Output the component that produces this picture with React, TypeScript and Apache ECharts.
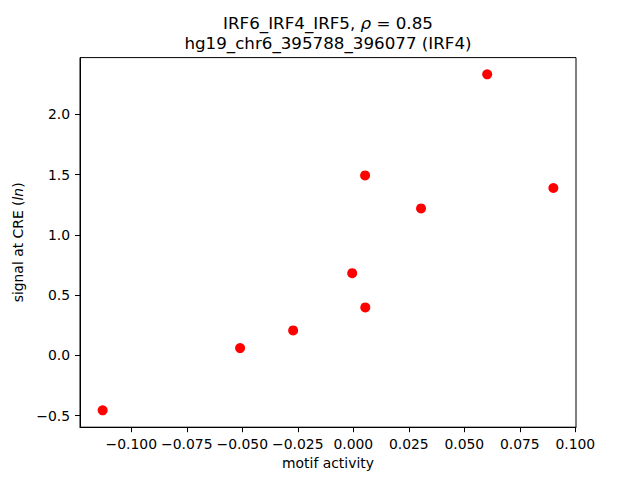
import React, { useEffect, useRef } from "react";
import * as echarts from "echarts";

const motifActivity = [-0.1129, -0.051, -0.0271, -0.0005, 0.0054, 0.0053, 0.0305, 0.0603, 0.0901];
const signalAtCRE = [-0.455, 0.061, 0.208, 0.683, 0.399, 1.494, 1.22, 2.332, 1.389];
const xTicks = [-0.1, -0.075, -0.05, -0.025, 0, 0.025, 0.05, 0.075, 0.1];
const yTicks = [-0.5, 0, 0.5, 1, 1.5, 2];
const xRange = [-0.1231, 0.1003];
const yRange = [-0.595, 2.471];
const titleLine1 = ["IRF6_IRF4_IRF5, ", "ρ", " = 0.85"];
const titleLine2 = "hg19_chr6_395788_396077 (IRF4)";
const xName = "motif activity";

const FONT = "DejaVu Sans";
const fmt = (v: number, d: number) => {
  const s = Math.abs(v).toFixed(d);
  return v < -1e-12 ? "\u2212" + s : s;
};

export default function App() {
  const ref = useRef<HTMLDivElement>(null);
  useEffect(() => {
    if (!ref.current) return;
    const chart = echarts.init(ref.current, null, { renderer: "svg" });
    const points = motifActivity.map((x, i) => [x, signalAtCRE[i]]);
    chart.setOption({
      animation: false,
      backgroundColor: "#ffffff",
      textStyle: { fontFamily: FONT },
      graphic: [
        {
          type: "text",
          x: 328,
          y: 23,
          style: {
            text: `{a|${titleLine1[0]}}{i|${titleLine1[1]}}{a|${titleLine1[2]}}`,
            textAlign: "center",
            textVerticalAlign: "middle",
            fill: "#000",
            rich: {
              a: { fontFamily: FONT, fontSize: 16.7, fill: "#000" },
              i: { fontFamily: FONT, fontSize: 16.7, fontStyle: "italic", fill: "#000" },
            },
          },
        },
        {
          type: "text",
          x: 328,
          y: 43,
          style: {
            text: titleLine2,
            textAlign: "center",
            textVerticalAlign: "middle",
            fontFamily: FONT,
            fontSize: 16.7,
            fill: "#000",
          },
        },
      ],
      grid: {
        left: 80,
        right: 64,
        top: 57.6,
        bottom: 52.8,
        show: true,
        borderColor: "#000",
        borderWidth: 1,
        backgroundColor: "#fff",
      },
      xAxis: {
        type: "value",
        min: xRange[0],
        max: xRange[1],
        name: xName,
        nameLocation: "middle",
        nameGap: 28,
        nameTextStyle: { fontFamily: FONT, fontSize: 13.9, color: "#000" },
        axisLine: { show: true, onZero: false, lineStyle: { color: "#000", width: 1 } },
        axisTick: { show: true, length: 5, customValues: xTicks, lineStyle: { color: "#000", width: 1 } },
        axisLabel: {
          customValues: xTicks,
          margin: 10,
          fontFamily: FONT,
          fontSize: 13.9,
          color: "#000",
          formatter: (v: number) => fmt(v, 3),
        },
        splitLine: { show: false },
      },
      yAxis: {
        type: "value",
        min: yRange[0],
        max: yRange[1],
        name: "{a|signal at CRE (}{i|ln}{a|)}",
        nameLocation: "middle",
        nameRotate: 90,
        nameGap: 52,
        nameTextStyle: {
          color: "#000",
          rich: {
            a: { fontFamily: FONT, fontSize: 13.9, color: "#000" },
            i: { fontFamily: FONT, fontSize: 13.9, fontStyle: "italic", color: "#000" },
          },
        },
        axisLine: { show: true, onZero: false, lineStyle: { color: "#000", width: 1 } },
        axisTick: { show: true, length: 5, customValues: yTicks, lineStyle: { color: "#000", width: 1 } },
        axisLabel: {
          customValues: yTicks,
          margin: 10,
          fontFamily: FONT,
          fontSize: 13.9,
          color: "#000",
          formatter: (v: number) => fmt(v, 1),
        },
        splitLine: { show: false },
      },
      series: [
        {
          type: "scatter",
          data: points,
          symbol: "circle",
          symbolSize: 10,
          itemStyle: { color: "#ff0000", opacity: 1 },
        },
      ],
    });
    return () => chart.dispose();
  }, []);
  return <div ref={ref} style={{ width: 640, height: 480, position: "absolute", left: 0, top: 0 }} />;
}
